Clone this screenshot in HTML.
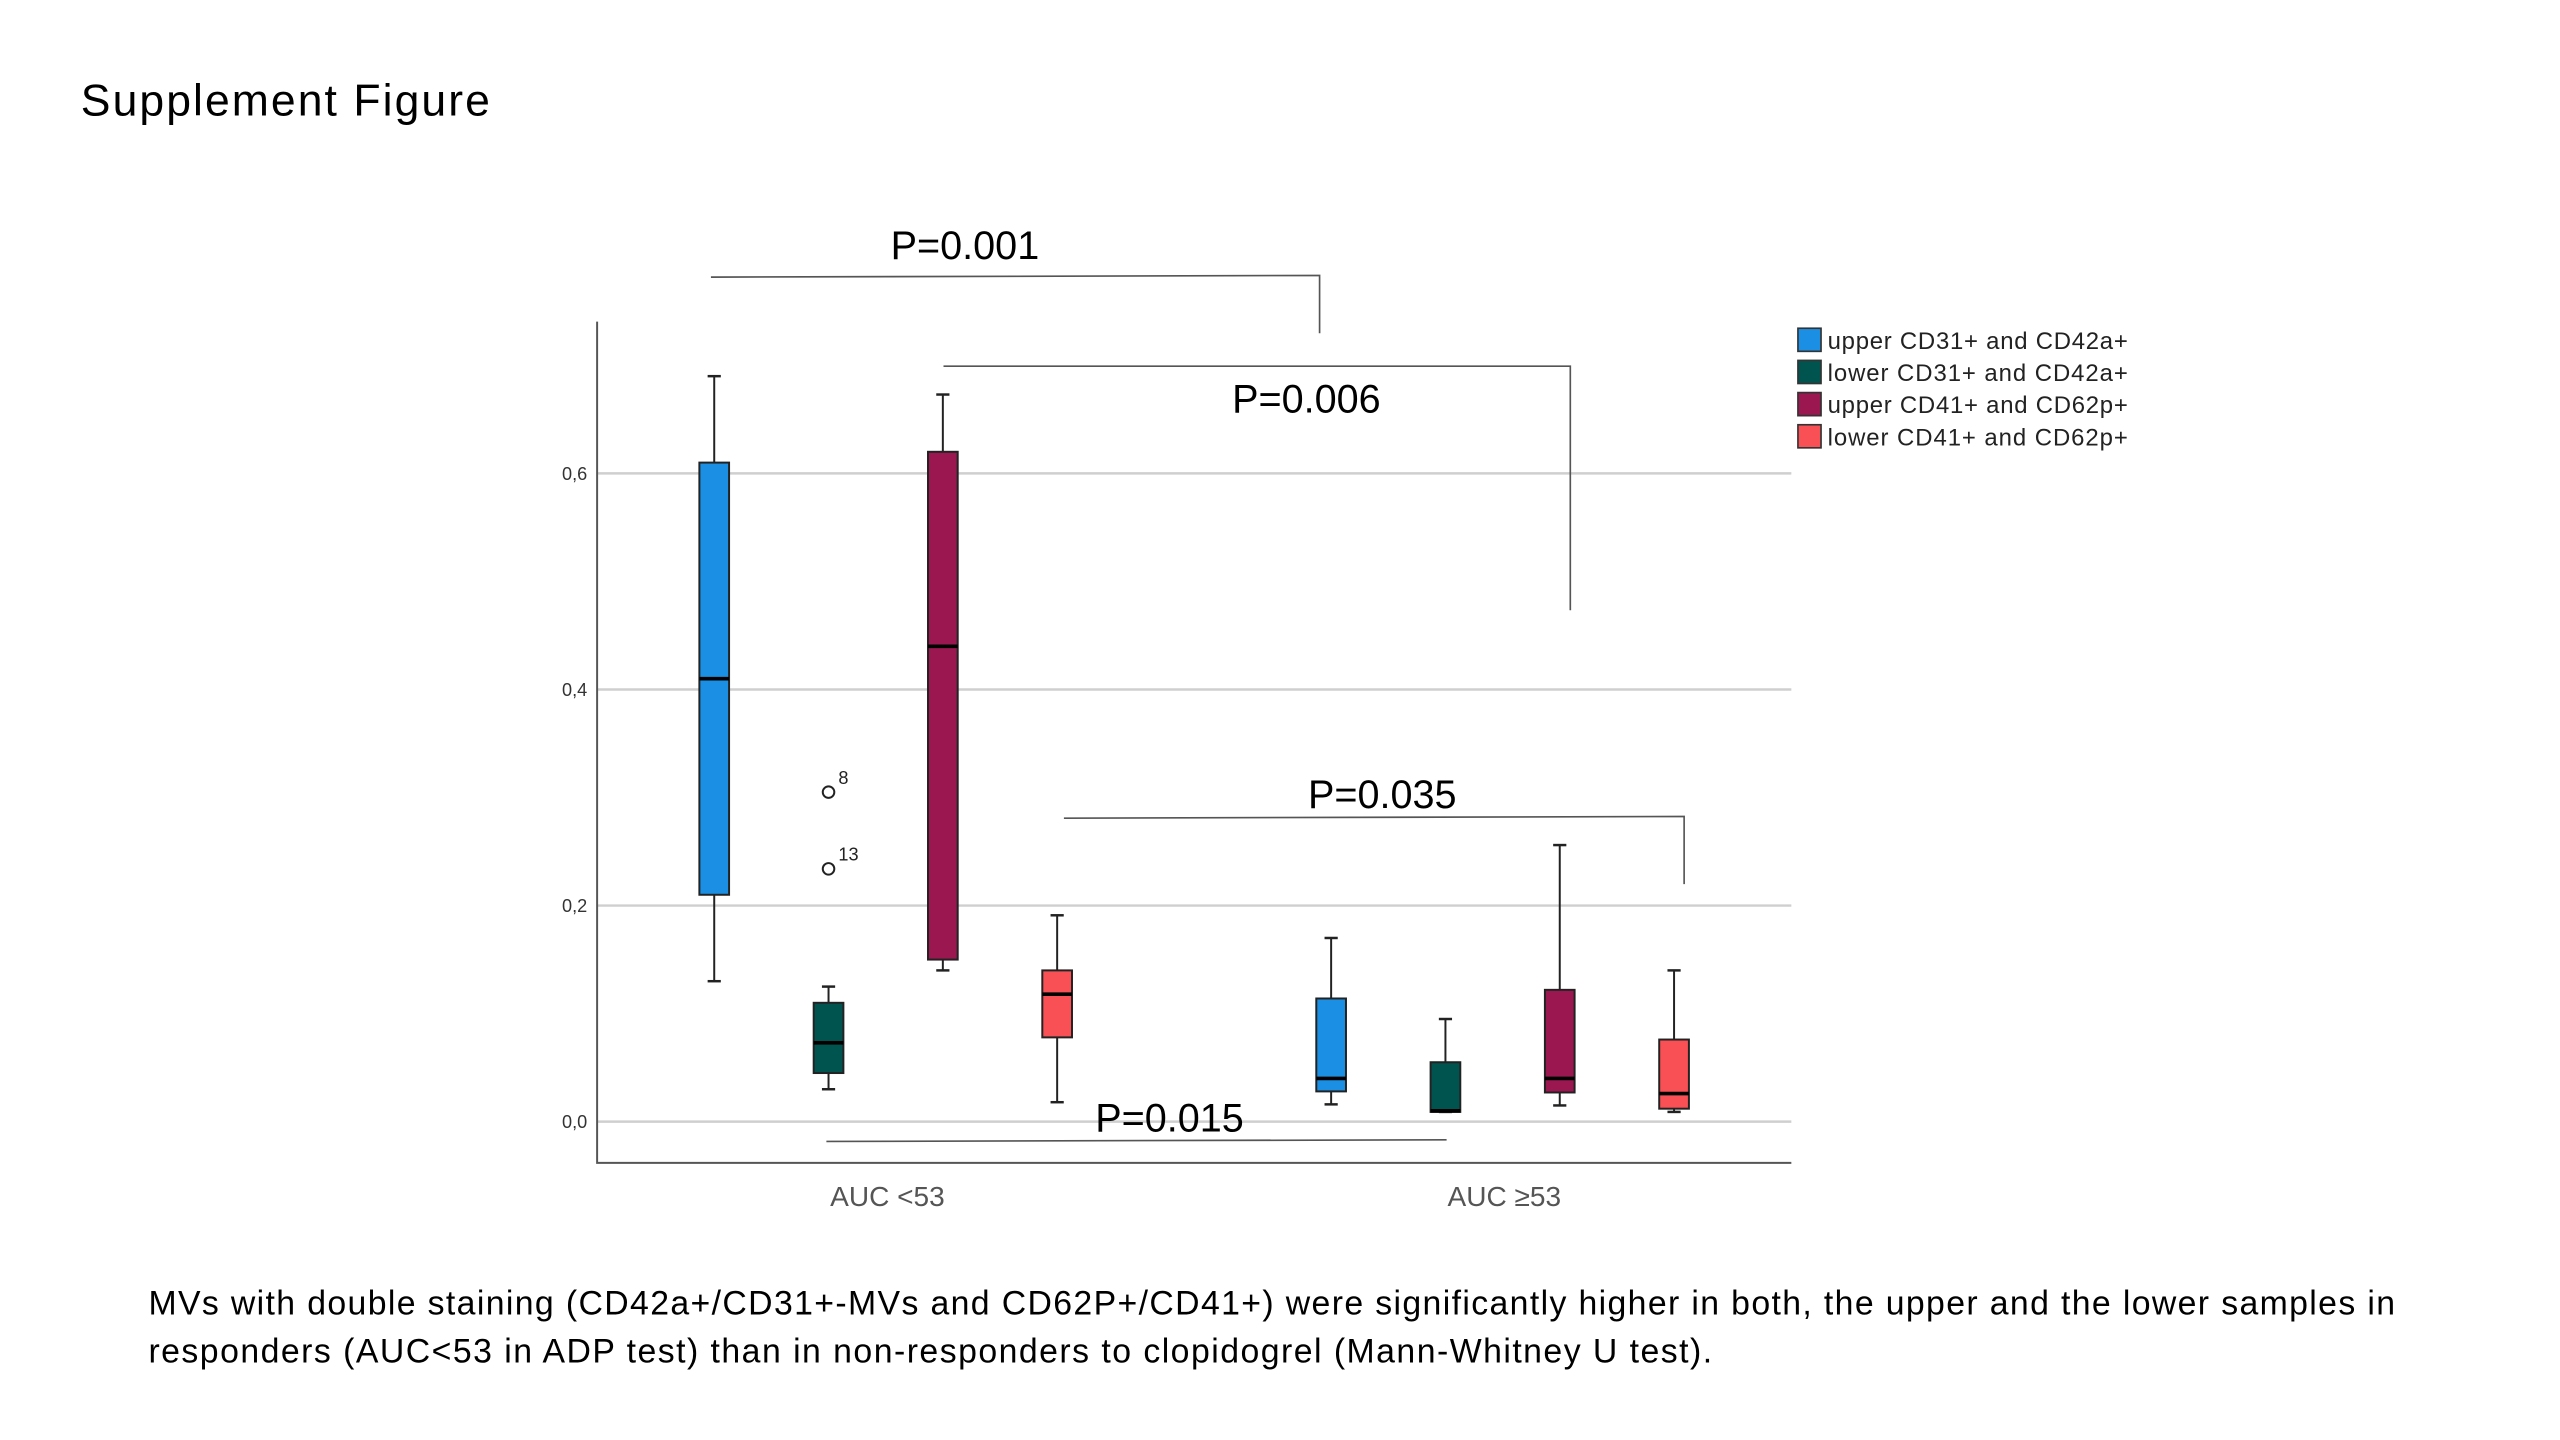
<!DOCTYPE html>
<html><head><meta charset="utf-8"><style>
html,body{margin:0;padding:0;background:#fff;width:2560px;height:1440px;overflow:hidden}
svg{display:block;font-family:"Liberation Sans",sans-serif}
</style></head><body>
<svg id="chart" width="2560" height="1440" viewBox="0 0 1552 873" xmlns="http://www.w3.org/2000/svg">
<text x="49" y="70" font-size="27" textLength="248" fill="#000">Supplement Figure</text>
<g id="grid"></g>
<g id="axes"></g>
<g id="boxes"></g>
<g id="annot" stroke="#555" stroke-width="1" fill="none">
<polyline points="431,168 800,167 800,202"/>
<polyline points="572,222 952,222 952,370"/>
<polyline points="645,496 1021,495 1021,536"/>
<polyline points="501,692 877,691"/>
</g>
<g font-size="24" text-anchor="middle" fill="#000">
<text x="585" y="157">P=0.001</text>
<text x="792" y="250">P=0.006</text>
<text x="838" y="490">P=0.035</text>
<text x="709" y="686">P=0.015</text>
</g>
<g id="legend" font-size="14.5" fill="#222"></g>
<g font-size="20.5" fill="#000">
<text x="90" y="797" textLength="1362">MVs with double staining (CD42a+/CD31+-MVs and CD62P+/CD41+) were significantly higher in both, the upper and the lower samples in</text>
<text x="90" y="826" textLength="948">responders (AUC&lt;53 in ADP test) than in non-responders to clopidogrel (Mann-Whitney U test).</text>
</g>
</svg>
<script>
const categories = ["AUC <53", "AUC \u226553"];
const seriesNames = ["upper CD31+ and CD42a+","lower CD31+ and CD42a+","upper CD41+ and CD62p+","lower CD41+ and CD62p+"];
const seriesColors = ["#1a8fe3","#005450","#9b1750","#f85055"];
// [min, q1, median, q3, max] per series, per category
const group1 = [[0.13,0.21,0.41,0.61,0.69],[0.03,0.045,0.073,0.11,0.125],[0.14,0.15,0.44,0.62,0.673],[0.018,0.078,0.118,0.14,0.191]];
const group2 = [[0.016,0.028,0.04,0.114,0.17],[0.009,0.009,0.01,0.055,0.095],[0.015,0.027,0.04,0.122,0.256],[0.009,0.012,0.026,0.076,0.14]];
const outlierValues = [0.305, 0.234];
const outlierLabels = ["8","13"];
const yTicks = [0,0.2,0.4,0.6];
const yTickLabels = ["0,0","0,2","0,4","0,6"];

const NS="http://www.w3.org/2000/svg";
const X0=362,X1=1086,Y0=680,YPER=655;
const y=v=>Y0-v*YPER;
const catCenter=i=>538+i*374;
const boxX=(c,s)=>catCenter(c)-105+s*69.3;
function mk(tag,attrs,parent){const e=document.createElementNS(NS,tag);for(const k in attrs)e.setAttribute(k,attrs[k]);parent.appendChild(e);return e;}
const grid=document.getElementById('grid'),axes=document.getElementById('axes'),boxes=document.getElementById('boxes'),legend=document.getElementById('legend');
yTicks.forEach((t,i)=>{
  const l=mk('line',{x1:X0,x2:X1,y1:y(t),y2:y(t),stroke:'#cfcfcf','stroke-width':1.5},grid);
  
  
  const tx=mk('text',{x:356,y:y(t)+4,'font-size':11,'text-anchor':'end',fill:'#333'},axes);
  tx.textContent=yTickLabels[i];
  
  
});
const ax=mk('polyline',{points:`${X0},195 ${X0},705 ${X1},705`,fill:'none',stroke:'#555','stroke-width':1.2},axes);


categories.forEach((c,i)=>{
  const t=mk('text',{x:catCenter(i),y:731,'font-size':17,'text-anchor':'middle',fill:'#555'},axes);
  t.textContent=c;
  
  
});
[group1,group2].forEach((grp,c)=>{
  grp.forEach((d,s)=>{
    const cx=boxX(c,s),w=18;
    const g=mk('g',{},boxes);
    
    
    mk('line',{x1:cx,x2:cx,y1:y(d[0]),y2:y(d[4]),stroke:'#222','stroke-width':1.2},g);
    mk('line',{x1:cx-4,x2:cx+4,y1:y(d[0]),y2:y(d[0]),stroke:'#222','stroke-width':1.5},g);
    mk('line',{x1:cx-4,x2:cx+4,y1:y(d[4]),y2:y(d[4]),stroke:'#222','stroke-width':1.5},g);
    mk('rect',{x:cx-w/2,y:y(d[3]),width:w,height:y(d[1])-y(d[3]),fill:seriesColors[s],stroke:'#222','stroke-width':1.2},g);
    mk('line',{x1:cx-w/2,x2:cx+w/2,y1:y(d[2]),y2:y(d[2]),stroke:'#000','stroke-width':2.2},g);
  });
});
outlierValues.forEach((v,i)=>{
  const cx=boxX(0,1);
  const o=mk('circle',{cx:cx,cy:y(v),r:3.5,fill:'none',stroke:'#222','stroke-width':1.2},boxes);
  
  
  const t=mk('text',{x:cx+6,y:y(v)-5,'font-size':11,fill:'#222'},boxes);
  t.textContent=outlierLabels[i];
  
  
});
seriesNames.forEach((n,i)=>{
  const yy=199+i*19.5;
  const r=mk('rect',{x:1090,y:yy,width:14,height:14,fill:seriesColors[i],stroke:'#333','stroke-width':1},legend);
  
  
  const t=mk('text',{x:1108,y:yy+12.5,textLength:182},legend);
  t.textContent=n;
  
  
});
</script>
</body></html>
